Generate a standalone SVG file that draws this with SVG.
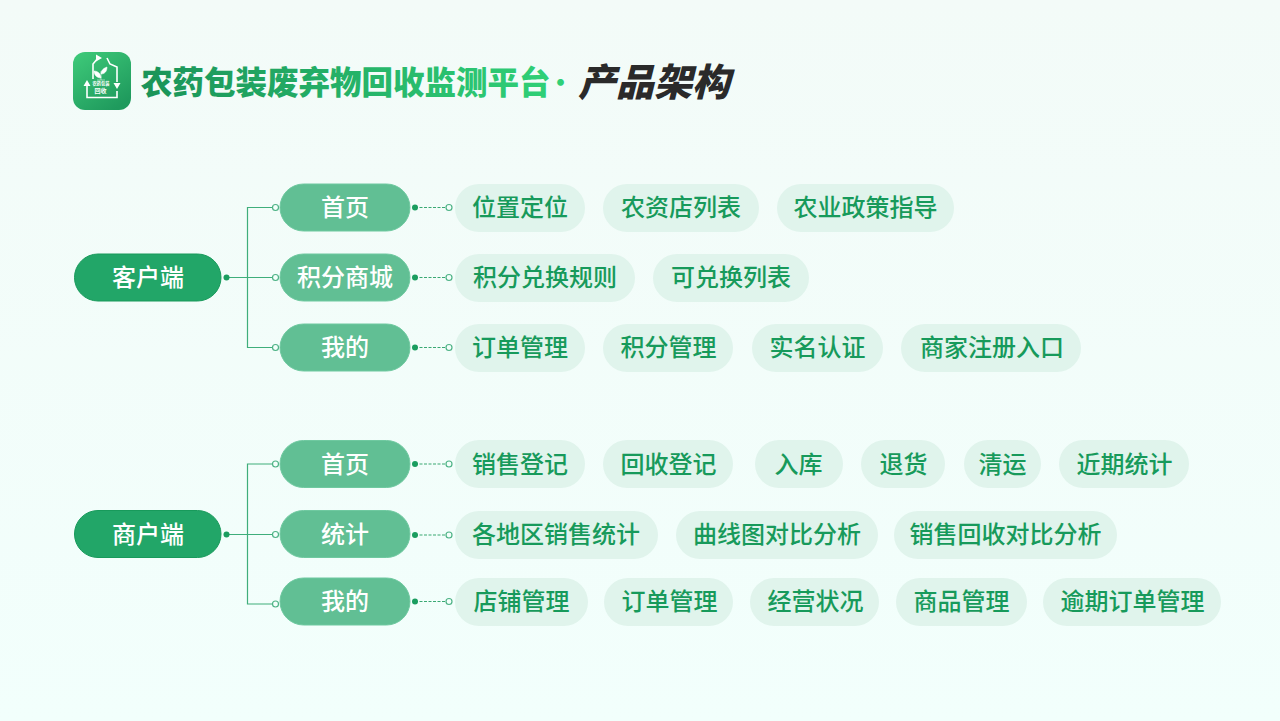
<svg xmlns="http://www.w3.org/2000/svg" width="1280" height="721" viewBox="0 0 1280 721">
<style>
text{font-family:"Noto Sans CJK SC","Noto Sans",sans-serif;text-anchor:middle;dominant-baseline:central}
.root{fill:#22a668;stroke:#189a5b;stroke-width:1}
.mid{fill:#61bf94;stroke:#6fc9a0;stroke-width:1}
.chip{fill:#e0f4ec}
.rt{fill:#fff;font-size:24px;font-weight:500}
.ct{fill:#179a5b;font-size:24px;font-weight:500}
.ln{fill:none;stroke:#3fae7b;stroke-width:1.2}
.ds{fill:none;stroke:#3aa873;stroke-width:1.2;stroke-dasharray:3 1.5}
.fd{fill:#1a9d5f}
.od{fill:#f3fffb;stroke:#4eb386;stroke-width:1.2}
</style>
<defs>
<linearGradient id="bg" x1="0" y1="0" x2="0" y2="1"><stop offset="0" stop-color="#f3fbf8"/><stop offset="1" stop-color="#f2fffc"/></linearGradient>
<linearGradient id="ic" x1="0" y1="0" x2="0.7" y2="1"><stop offset="0" stop-color="#3fcb7a"/><stop offset="1" stop-color="#1f9a5d"/></linearGradient>
<linearGradient id="tg" gradientUnits="userSpaceOnUse" x1="141" y1="0" x2="552" y2="0"><stop offset="0" stop-color="#1a9358"/><stop offset="1" stop-color="#30d077"/></linearGradient>
</defs>
<rect width="1280" height="721" fill="url(#bg)"/>
<g id="title">
<rect x="73" y="52" width="58" height="58" rx="12" fill="url(#ic)"/>
<path d="M98 58L93 64V79M107 58L110 64L117 67V82M87 84V97.500H117V91" fill="none" stroke="#fff" stroke-width="1.600"/>
<path d="M101 78c0-4-3-7-7-7c0 4 3 7 7 7zM101 74c0-4 3-6 6-7c0 4-2 7-6 7zM101 71V80M97 80H105" fill="#fff" stroke="#fff" stroke-width=".5"/>
<path d="M83.500 86L87 80L90.500 86ZM113.500 83H120.500L117 89ZM96 54.500L102 58L96 61.500Z" fill="#fff"/>
<text x="101" y="83" fill="#fff" font-size="4.200" font-weight="700">农药包装</text>
<text x="100.500" y="90" fill="#fff" font-size="6" font-weight="700">回收</text>
<text x="141" y="79.500" fill="url(#tg)" font-size="31.500" font-weight="900" style="text-anchor:start">农药包装废弃物回收监测平台<tspan dx="-2" font-size="24" fill="#30d077">·</tspan></text>
<text x="578" y="79" fill="#2a2a2a" font-size="38" font-weight="900" font-style="italic" style="text-anchor:start">产品架构</text>
</g>
<g id="connectors">
<path class="ln" d="M226 277.500H272M272 207.500H247.500V347.500H272"/>
<path class="ln" d="M226 534.500H272M272 464H247.500V604H272"/>
<path class="ds" d="M415 207.500H446M415 277.500H446M415 347.500H446M415 464H446M415 535H446M415 601.500H446"/>
<g class="fd"><circle cx="226.500" cy="277.500" r="3"/><circle cx="226.500" cy="534.500" r="3"/><circle cx="415" cy="207.500" r="3"/><circle cx="415" cy="277.500" r="3"/><circle cx="415" cy="347.500" r="3"/><circle cx="415" cy="464" r="3"/><circle cx="415" cy="535" r="3"/><circle cx="415" cy="601.500" r="3"/></g>
<g class="od"><circle cx="275.500" cy="207.500" r="3"/><circle cx="275.500" cy="277.500" r="3"/><circle cx="275.500" cy="347.500" r="3"/><circle cx="275.500" cy="464" r="3"/><circle cx="275.500" cy="534.500" r="3"/><circle cx="275.500" cy="604" r="3"/><circle cx="449" cy="207.500" r="3"/><circle cx="449" cy="277.500" r="3"/><circle cx="449" cy="347.500" r="3"/><circle cx="449" cy="464" r="3"/><circle cx="449" cy="535" r="3"/><circle cx="449" cy="601.500" r="3"/></g>
</g>
<g id="root-1"><rect class="root" x="74.500" y="254" width="146.500" height="47" rx="23.500"/><text class="rt" x="148" y="275.500">客户端</text></g>
<g id="root-2"><rect class="root" x="74.500" y="510.500" width="146.500" height="47" rx="23.500"/><text class="rt" x="148" y="532">商户端</text></g>
<g id="m1"><rect class="mid" x="280" y="184" width="130" height="47" rx="23.500"/><text class="rt" x="345" y="205.500">首页</text></g>
<g id="m2"><rect class="mid" x="280" y="254" width="130" height="47" rx="23.500"/><text class="rt" x="345" y="275.500">积分商城</text></g>
<g id="m3"><rect class="mid" x="280" y="324" width="130" height="47" rx="23.500"/><text class="rt" x="345" y="345.500">我的</text></g>
<g id="m4"><rect class="mid" x="280" y="440.500" width="130" height="47" rx="23.500"/><text class="rt" x="345" y="462">首页</text></g>
<g id="m5"><rect class="mid" x="280" y="510.500" width="130" height="47" rx="23.500"/><text class="rt" x="345" y="532.500">统计</text></g>
<g id="m6"><rect class="mid" x="280" y="578" width="130" height="47" rx="23.500"/><text class="rt" x="345" y="599.500">我的</text></g>
<g id="c1"><rect class="chip" x="455" y="184" width="130" height="48" rx="24"/><text class="ct" x="520" y="205.500">位置定位</text></g>
<g id="c2"><rect class="chip" x="603" y="184" width="156" height="48" rx="24"/><text class="ct" x="681" y="205.500">农资店列表</text></g>
<g id="c3"><rect class="chip" x="777" y="184" width="177" height="48" rx="24"/><text class="ct" x="865.500" y="205.500">农业政策指导</text></g>
<g id="c4"><rect class="chip" x="455" y="254" width="180" height="48" rx="24"/><text class="ct" x="545" y="275.500">积分兑换规则</text></g>
<g id="c5"><rect class="chip" x="653" y="254" width="156" height="48" rx="24"/><text class="ct" x="731" y="275.500">可兑换列表</text></g>
<g id="c6"><rect class="chip" x="455" y="324" width="130" height="48" rx="24"/><text class="ct" x="520" y="345.500">订单管理</text></g>
<g id="c7"><rect class="chip" x="603" y="324" width="130" height="48" rx="24"/><text class="ct" x="668.500" y="345.500">积分管理</text></g>
<g id="c8"><rect class="chip" x="752" y="324" width="131" height="48" rx="24"/><text class="ct" x="817.500" y="345.500">实名认证</text></g>
<g id="c9"><rect class="chip" x="901" y="324" width="180" height="48" rx="24"/><text class="ct" x="992" y="345.500">商家注册入口</text></g>
<g id="c10"><rect class="chip" x="455" y="440" width="130" height="48" rx="24"/><text class="ct" x="520" y="462">销售登记</text></g>
<g id="c11"><rect class="chip" x="603" y="440" width="130" height="48" rx="24"/><text class="ct" x="668.500" y="462">回收登记</text></g>
<g id="c12"><rect class="chip" x="755" y="440" width="88" height="48" rx="24"/><text class="ct" x="798.500" y="462">入库</text></g>
<g id="c13"><rect class="chip" x="861" y="440" width="84" height="48" rx="24"/><text class="ct" x="903.500" y="462">退货</text></g>
<g id="c14"><rect class="chip" x="964" y="440" width="77" height="48" rx="24"/><text class="ct" x="1002.500" y="462">清运</text></g>
<g id="c15"><rect class="chip" x="1059" y="440" width="130" height="48" rx="24"/><text class="ct" x="1124.500" y="462">近期统计</text></g>
<g id="c16"><rect class="chip" x="455" y="511" width="203" height="48" rx="24"/><text class="ct" x="556" y="532.500">各地区销售统计</text></g>
<g id="c17"><rect class="chip" x="676" y="511" width="202" height="48" rx="24"/><text class="ct" x="777" y="532.500">曲线图对比分析</text></g>
<g id="c18"><rect class="chip" x="894" y="511" width="223" height="48" rx="24"/><text class="ct" x="1005.500" y="532.500">销售回收对比分析</text></g>
<g id="c19"><rect class="chip" x="455" y="578" width="133" height="48" rx="24"/><text class="ct" x="521.500" y="599.500">店铺管理</text></g>
<g id="c20"><rect class="chip" x="604" y="578" width="129" height="48" rx="24"/><text class="ct" x="669.500" y="599.500">订单管理</text></g>
<g id="c21"><rect class="chip" x="750" y="578" width="129" height="48" rx="24"/><text class="ct" x="815.500" y="599.500">经营状况</text></g>
<g id="c22"><rect class="chip" x="896" y="578" width="131" height="48" rx="24"/><text class="ct" x="961.500" y="599.500">商品管理</text></g>
<g id="c23"><rect class="chip" x="1043" y="578" width="178" height="48" rx="24"/><text class="ct" x="1132.500" y="599.500">逾期订单管理</text></g>
</svg>
